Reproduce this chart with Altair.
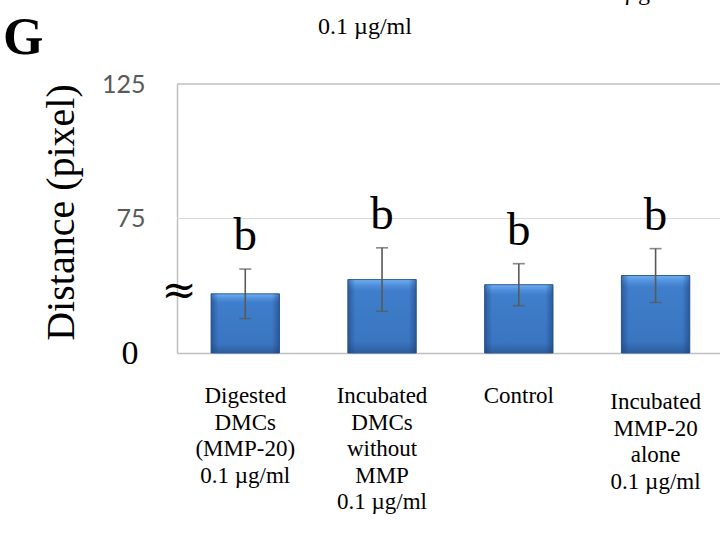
import altair as alt
import pandas as pd

# Groups, mean distances and standard deviations (axis runs from a broken "0" at 25 up to 125)
groups = [
    "Digested\nDMCs\n(MMP-20)\n0.1 µg/ml",
    "Incubated\nDMCs\nwithout\nMMP\n0.1 µg/ml",
    "Control",
    "Incubated\nMMP-20\nalone\n0.1 µg/ml",
]
means = [47.0, 52.3, 50.4, 53.8]
sds = [9.2, 11.8, 7.8, 10.0]
letters = ["b", "b", "b", "b"]
y_ticks = [25, 75, 125]

df = pd.DataFrame({"group": groups, "mean": means, "sd": sds, "letter": letters})
df["lo"] = df["mean"] - df["sd"]
df["hi"] = df["mean"] + df["sd"]
df["base"] = 25
df["idx"] = range(len(groups))

W, H = 543, 269
SERIF = "Liberation Serif"

x_scale = alt.Scale(domain=groups, paddingInner=0.5, paddingOuter=0.235, align=0.53)
y_scale = alt.Scale(domain=[25, 125], nice=False, zero=False)

x_enc = alt.X("group:N", scale=x_scale, sort=groups,
              axis=alt.Axis(labels=False, ticks=False, title=None,
                            domainColor="#bfbfbf", domainWidth=1.5))
y_axis = alt.Axis(
    values=y_ticks,
    labelExpr="datum.value == 25 ? '0' : datum.label",
    labelFont={"condition": {"test": "datum.value == 25", "value": SERIF}, "value": "Lato"},
    labelFontSize={"condition": {"test": "datum.value == 25", "value": 34}, "value": 25},
    labelColor={"condition": {"test": "datum.value == 25", "value": "#000000"}, "value": "#595959"},
    labelPadding={"condition": {"test": "datum.value == 25", "value": 39}, "value": 32},
    ticks=False, grid=False,
    domainColor="#bfbfbf", domainWidth=1.5,
    title="Distance (pixel)", titleFont=SERIF, titleFontSize=40, titleFontWeight="normal",
    titleColor="#000000", titleX=-104, titleY=128, titleAngle=270,
    titleAlign="center", titleBaseline="alphabetic",
)
y_enc = alt.Y("mean:Q", scale=y_scale, axis=y_axis)

base = alt.Chart(df)

# Gridline at 75 and the top frame line
grid75 = alt.Chart(pd.DataFrame({"v": [75]})).mark_rule(color="#d9d9d9", strokeWidth=1.2).encode(
    y=alt.Y("v:Q", scale=y_scale))
top_line = alt.Chart(pd.DataFrame({"v": [125]})).mark_rule(color="#bfbfbf", strokeWidth=1.5).encode(
    y=alt.Y("v:Q", scale=y_scale))

bar_fill = alt.Gradient(
    gradient="linear", x1=0, x2=0, y1=0, y2=1,
    stops=[
        alt.GradientStop(color="#70aef0", offset=0.0),
        alt.GradientStop(color="#4f8fdc", offset=0.08),
        alt.GradientStop(color="#3f7ecb", offset=0.15),
        alt.GradientStop(color="#3a75c0", offset=0.85),
        alt.GradientStop(color="#2c5d9c", offset=1.0),
    ],
)
side_shade = alt.Gradient(
    gradient="linear", x1=0, x2=1, y1=0, y2=0,
    stops=[
        alt.GradientStop(color="rgba(25,55,110,0.5)", offset=0.0),
        alt.GradientStop(color="rgba(25,55,110,0.0)", offset=0.11),
        alt.GradientStop(color="rgba(25,55,110,0.0)", offset=0.89),
        alt.GradientStop(color="rgba(25,55,110,0.5)", offset=1.0),
    ],
)

bars = base.mark_bar(color=bar_fill, stroke="#2f5f9b", strokeWidth=1).encode(
    x=x_enc, y=y_enc, y2="base:Q")
bars_shade = base.mark_bar(color=side_shade).encode(
    x=alt.X("group:N", scale=x_scale, sort=groups), y=alt.Y("mean:Q", scale=y_scale), y2="base:Q")

err_color = "#595959"
err_rule = base.mark_rule(color=err_color, strokeWidth=1.6).encode(
    x=alt.X("group:N", scale=x_scale, sort=groups),
    y=alt.Y("lo:Q", scale=y_scale), y2="hi:Q")
cap_hi = base.mark_tick(color=err_color, thickness=1.6, size=12, orient="horizontal").encode(
    x=alt.X("group:N", scale=x_scale, sort=groups), y=alt.Y("hi:Q", scale=y_scale))
cap_lo = base.mark_tick(color=err_color, thickness=1.6, size=12, orient="horizontal").encode(
    x=alt.X("group:N", scale=x_scale, sort=groups), y=alt.Y("lo:Q", scale=y_scale))

letter_text = base.mark_text(font=SERIF, fontSize=47, color="#000000", baseline="alphabetic",
                             dy=-19).encode(
    x=alt.X("group:N", scale=x_scale, sort=groups), y=alt.Y("hi:Q", scale=y_scale), text="letter:N")

# Category labels under the plot, one line per row of text; the last block sits a little lower
label_style = dict(font=SERIF, fontSize=23, color="#000000", baseline="top",
                   align="center", lineBreak="\n", lineHeight=26.5)
cat_labels = base.transform_filter("datum.idx < 3").mark_text(**label_style).encode(
    x=alt.X("group:N", scale=x_scale, sort=groups), y=alt.value(H + 32), text="group:N")
cat_labels_last = base.transform_filter("datum.idx == 3").mark_text(**label_style).encode(
    x=alt.X("group:N", scale=x_scale, sort=groups), y=alt.value(H + 38), text="group:N")

# Axis-break mark beside the broken axis
break_mark = alt.Chart(pd.DataFrame({"t": ["≈"]})).mark_text(
    font="DejaVu Serif", fontSize=42, color="#000000", baseline="middle", align="center").encode(
    x=alt.value(2), y=alt.value(207), text="t:N")

# Panel letter and the running header text
panel = alt.Chart(pd.DataFrame({"t": ["G"]})).mark_text(
    font=SERIF, fontSize=52, fontWeight="bold", color="#000000", align="left",
    baseline="alphabetic").encode(x=alt.value(-174), y=alt.value(-30), text="t:N")
header = alt.Chart(pd.DataFrame({"t": ["0.1 µg/ml"]})).mark_text(
    font=SERIF, fontSize=24, color="#000000", align="center", baseline="middle").encode(
    x=alt.value(188), y=alt.value(-57), text="t:N")
header_prev = alt.Chart(pd.DataFrame({"t": ["0.1 µg/ml"]})).mark_text(
    font=SERIF, fontSize=24, color="#000000", align="center", baseline="alphabetic").encode(
    x=alt.value(458), y=alt.value(-84), text="t:N")

chart = alt.layer(
    grid75, top_line, bars, bars_shade, err_rule, cap_hi, cap_lo, letter_text,
    cat_labels, cat_labels_last, break_mark, panel, header, header_prev,
).properties(
    width=W, height=H,
    autosize=alt.AutoSizeParams(type="none"),
    padding={"left": 177, "top": 84, "right": 0, "bottom": 187},
    background="white",
).configure_view(stroke=None)

chart.save("out.html", embed_options={"renderer": "svg", "actions": False})
